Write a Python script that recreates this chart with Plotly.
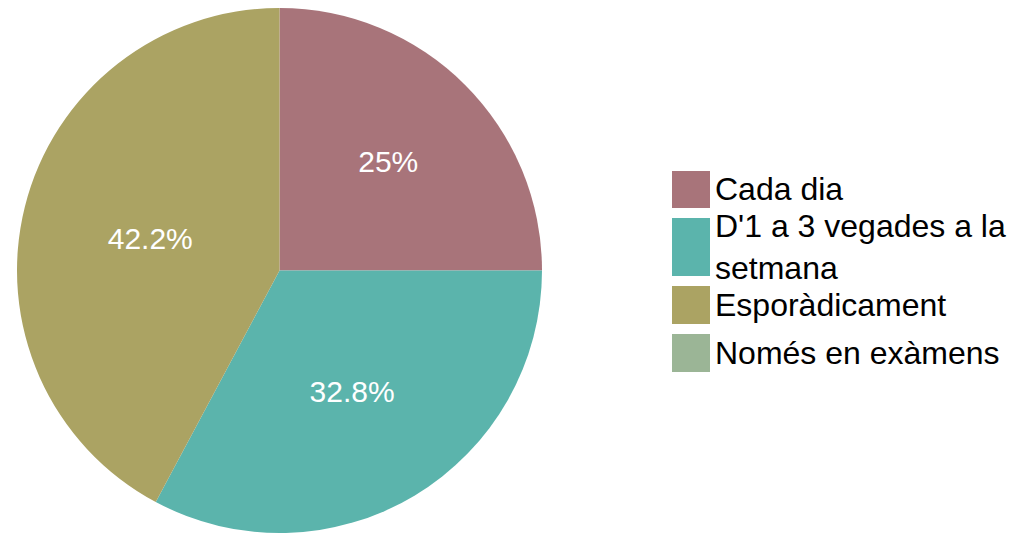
import plotly.graph_objects as go

labels = ["Cada dia", "D'1 a 3 vegades a la setmana", "Esporàdicament", "Només en exàmens"]
legend_text = ["Cada dia", "D'1 a 3 vegades a la<br>setmana", "Esporàdicament", "Només en exàmens"]
values = [16, 21, 27, 0]
colors = ["#A8747A", "#5BB4AC", "#ABA363", "#9BB596"]

W, H = 1026, 533
OFF = 8  # page body margin offset

fig = go.Figure(go.Pie(
    labels=labels,
    values=values,
    sort=False,
    direction="clockwise",
    rotation=0,
    marker=dict(colors=colors, line=dict(width=0)),
    textinfo="percent",
    texttemplate="%{percent:.3~p}",
    textposition="inside",
    insidetextorientation="horizontal",
    textfont=dict(family="Liberation Sans, Arial", size=30, color="white"),
    domain=dict(x=[(16 - OFF) / W, (543 - OFF) / W], y=[0, 1]),
    showlegend=False,
    hoverinfo="label+percent",
))

PLOT_H = H - OFF  # plot area height (margin t=0, b=OFF)

def ypaper(py):
    return 1 - (py - OFF) / PLOT_H

# Custom legend (large square swatches)
legend_boxes = [(171, 208), (218, 276), (286, 324), (334, 372)]
shapes = []
annotations = []
for (y0, y1), txt, col in zip(legend_boxes, legend_text, colors):
    shapes.append(dict(type="rect", xref="paper", yref="paper",
                       x0=(672 - OFF) / W, x1=(710 - OFF) / W,
                       y0=ypaper(y1), y1=ypaper(y0),
                       fillcolor=col, line=dict(width=0)))
    annotations.append(dict(text=txt, xref="paper", yref="paper",
                            x=(713 - OFF) / W, y=ypaper((y0 + y1) / 2),
                            xanchor="left", yanchor="middle", align="left",
                            showarrow=False,
                            font=dict(family="Liberation Sans, Arial", size=32, color="#000000")))

fig.update_layout(
    width=W, height=H,
    margin=dict(l=0, r=0, t=0, b=OFF),
    paper_bgcolor="white",
    plot_bgcolor="white",
    shapes=shapes,
    annotations=annotations,
)

fig.write_html("out.html")
